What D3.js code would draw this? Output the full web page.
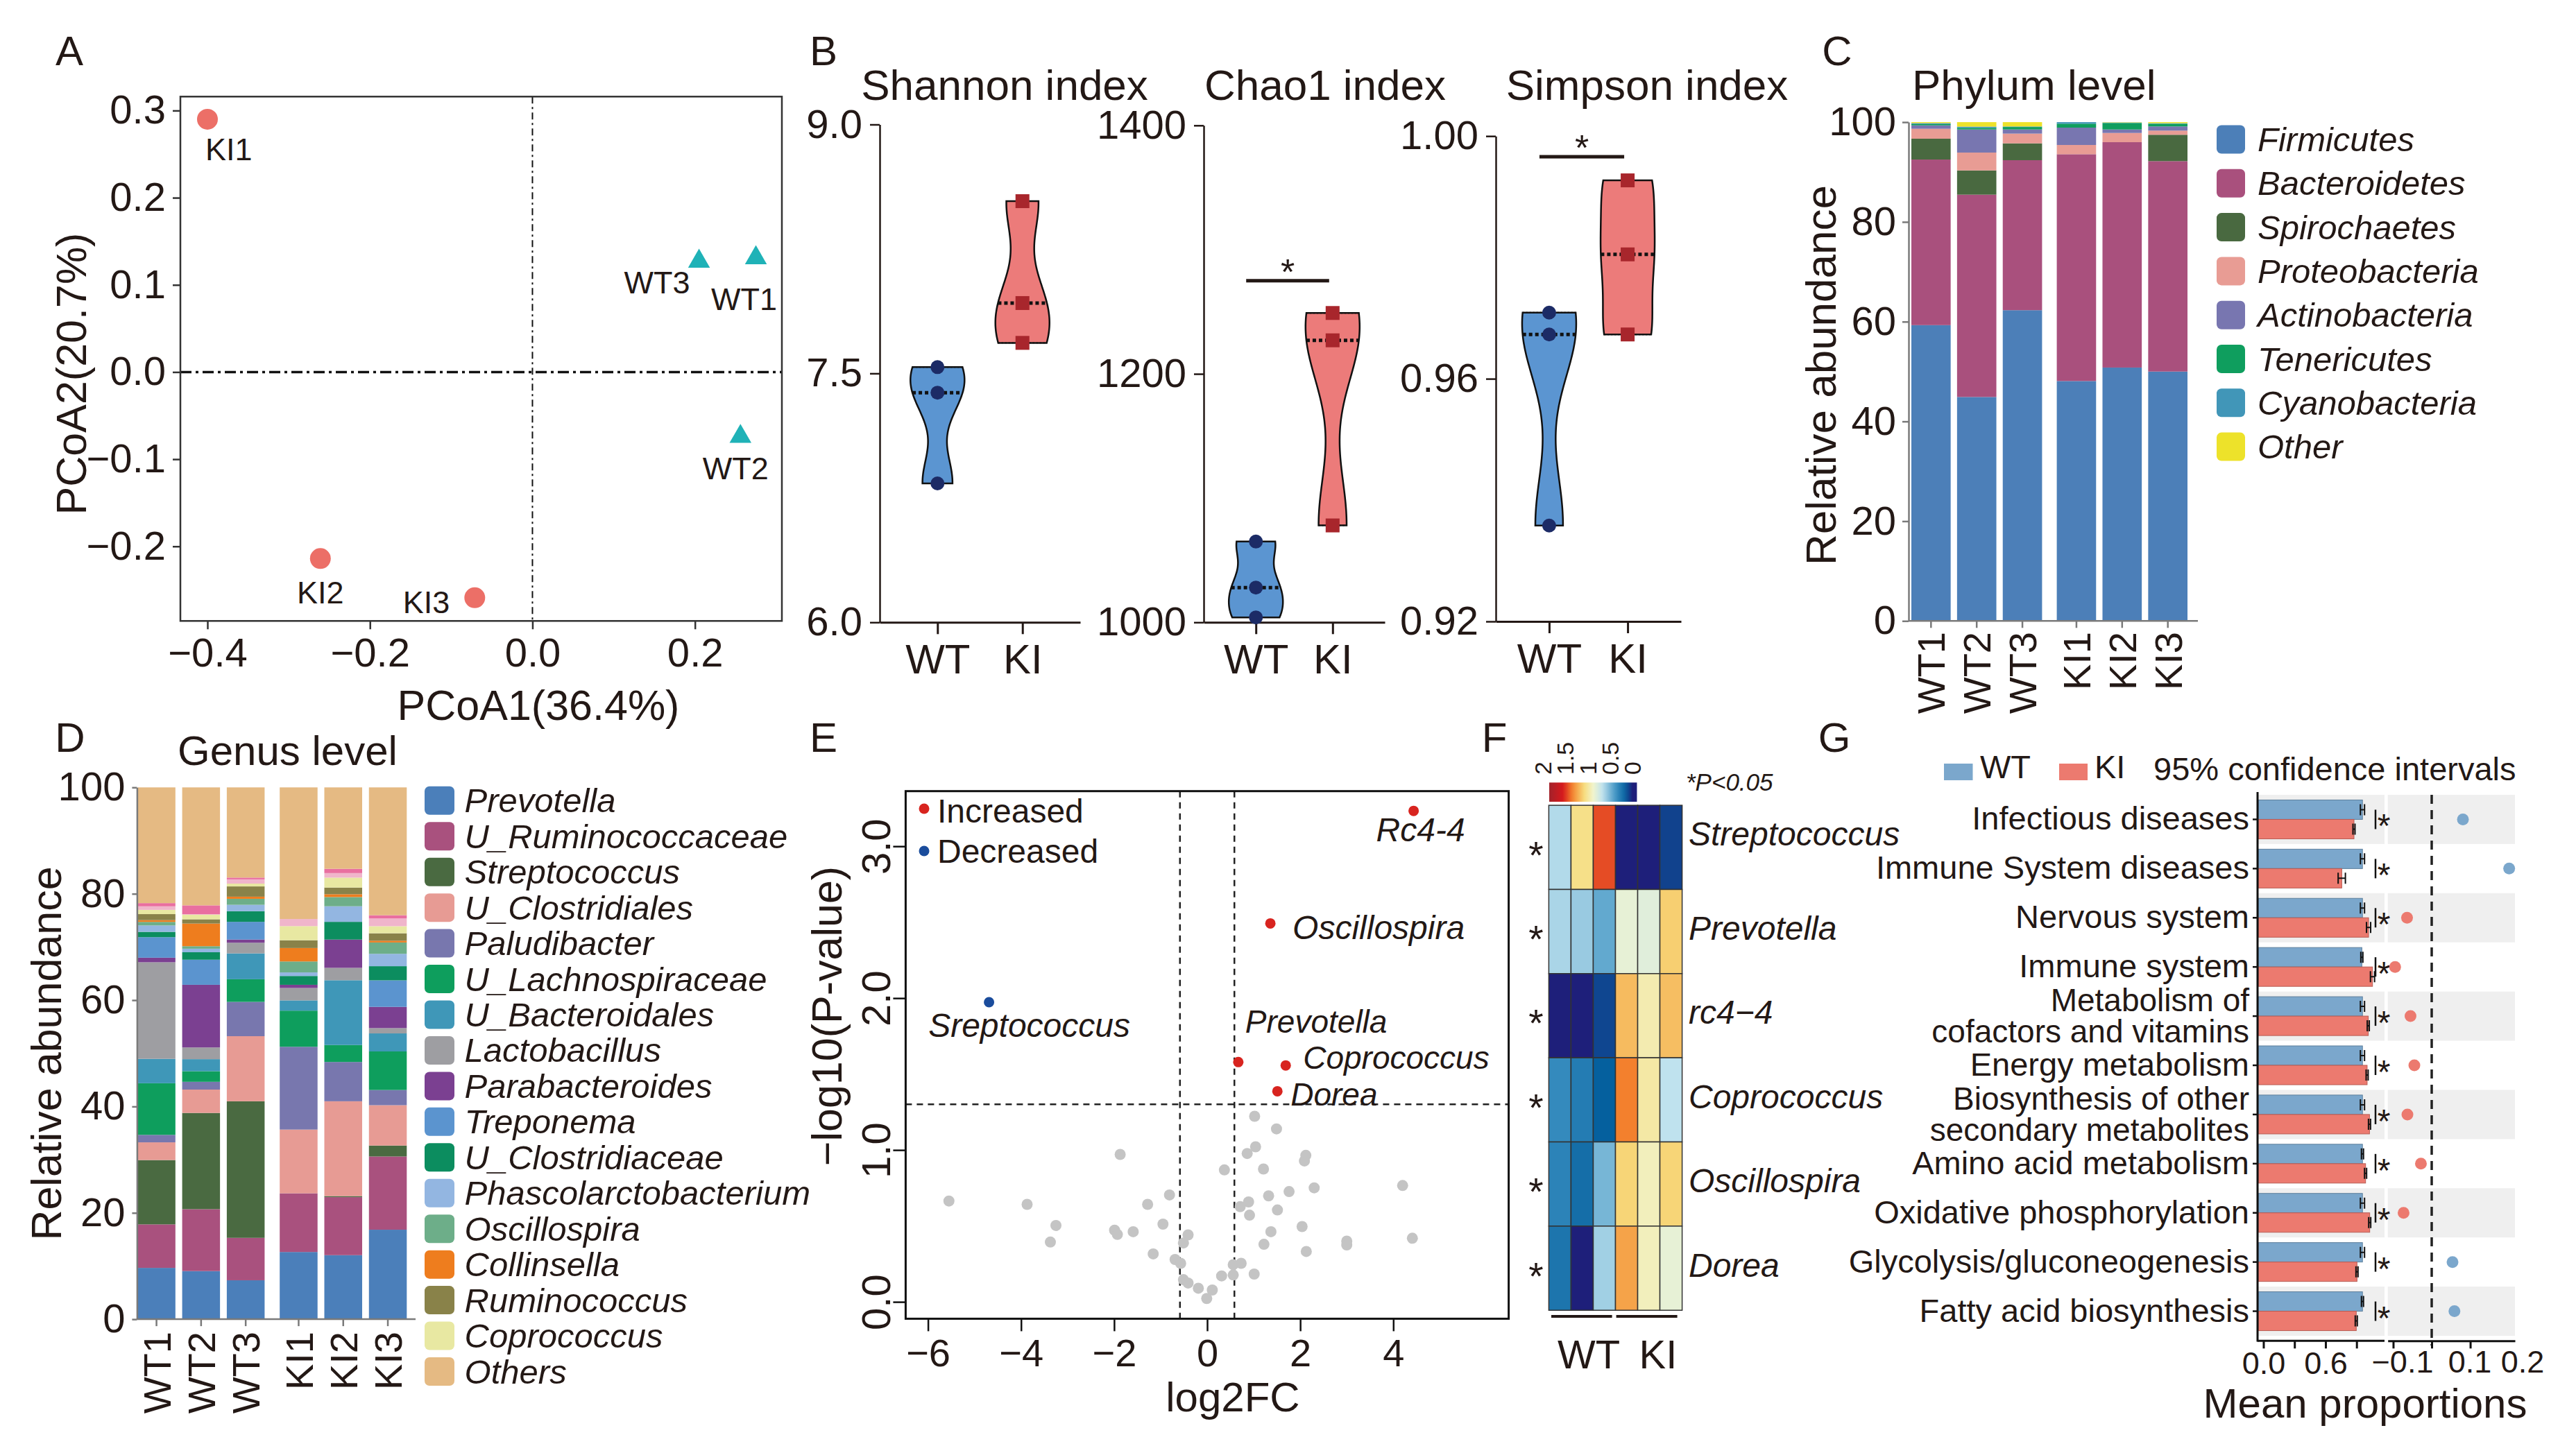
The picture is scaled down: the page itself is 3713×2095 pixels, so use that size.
<!DOCTYPE html>
<html>
<head>
<meta charset="utf-8">
<script src="https://cdn.jsdelivr.net/npm/d3@7/dist/d3.min.js"></script>
<style>
  body { margin: 0; background: #fff; }
  text { font-family: 'Liberation Sans', Arial, Helvetica, sans-serif; fill: #231815; }
</style>
</head>
<body>
<script>
// ---------- A: PCoA ----------
const pcoaSamples = ["KI1", "KI2", "KI3", "WT1", "WT2", "WT3"];
const pcoaGroup = ["KI", "KI", "KI", "WT", "WT", "WT"];
const pcoa1 = [-0.400, -0.261, -0.071, 0.275, 0.256, 0.205];
const pcoa2 = [0.290, -0.214, -0.259, 0.131, -0.074, 0.127];
const pcoaTicksX = [-0.4, -0.2, 0.0, 0.2];
const pcoaTicksY = [-0.2, -0.1, 0.0, 0.1, 0.2, 0.3];

// ---------- B: alpha diversity ----------
const groups = ["WT", "KI"];
const shannonWT = [7.538, 7.384, 6.837];
const shannonKI = [8.538, 7.924, 7.684];
const chao1WT = [1065, 1028, 1004];
const chao1KI = [1249, 1227, 1078];
const simpsonWT = [0.9709, 0.9673, 0.9358];
const simpsonKI = [0.9927, 0.9805, 0.9673];
const shannonTicks = [6.0, 7.5, 9.0];
const chao1Ticks = [1000, 1200, 1400];
const simpsonTicks = [0.92, 0.96, 1.00];
const chao1Sig = 1275;
const simpsonSig = 0.9966;

// ---------- C: phylum ----------
const samples = ["WT1", "WT2", "WT3", "KI1", "KI2", "KI3"];
const phyla = ["Firmicutes", "Bacteroidetes", "Spirochaetes", "Proteobacteria",
  "Actinobacteria", "Tenericutes", "Cyanobacteria", "Other"];
const firmicutes = [59.3, 44.9, 62.3, 48.1, 50.8, 50.0];
const bacteroidetes = [33.2, 40.56, 30.07, 45.47, 45.18, 42.18];
const spirochaetes = [4.18, 4.86, 3.38, 0.0, 0.0, 5.29];
const proteobacteria = [1.99, 3.58, 1.95, 1.85, 1.85, 0.83];
const actinobacteria = [0.69, 4.63, 0.83, 3.48, 0.7, 0.84];
const tenericutes = [0.24, 0.33, 0.5, 0.79, 1.3, 0.55];
const cyanobacteria = [0.2, 0.24, 0.1, 0.31, 0.1, 0.1];
const otherPhyla = [0.2, 0.9, 0.87, 0.0, 0.07, 0.21];
const phylumColors = ["#4c7fb8", "#a9507d", "#496940", "#e89c94", "#7876b0", "#0f9e5e", "#4196b8", "#ede22a"];

// ---------- D: genus ----------
const genera = ["Prevotella", "U_Ruminococcaceae", "Streptococcus", "U_Clostridiales", "Paludibacter",
  "U_Lachnospiraceae", "U_Bacteroidales", "Lactobacillus", "Parabacteroides", "Treponema",
  "U_Clostridiaceae", "Phascolarctobacterium", "Oscillospira", "Collinsella", "Ruminococcus",
  "Coprococcus", "Others"];
const prevotella = [9.65, 9.05, 7.32, 12.64, 12.04, 16.83];
const uRuminococcaceae = [8.18, 11.64, 7.98, 11.04, 10.91, 13.77];
const streptococcus = [12.1, 18.1, 25.68, 0.0, 0.2, 2.06];
const uClostridiales = [3.33, 4.39, 12.24, 11.98, 17.83, 7.58];
const paludibacter = [1.4, 1.46, 6.45, 15.57, 7.39, 2.86];
const uLachnospiraceae = [9.71, 2.0, 4.26, 6.79, 3.19, 7.25];
const uBacteroidales = [4.59, 2.26, 4.86, 1.93, 12.18, 3.39];
const lactobacillus = [18.16, 2.2, 2.0, 2.33, 2.33, 1.0];
const parabacteroides = [0.86, 11.78, 0.6, 0.6, 5.32, 3.99];
const treponema = [3.86, 4.72, 3.33, 0.0, 0.0, 4.99];
const uClostridiaceae = [1.0, 1.4, 2.0, 1.66, 3.33, 2.66];
const phascolarctobacterium = [1.2, 0.67, 1.2, 0.67, 2.93, 2.33];
const oscillospira = [0.67, 0.47, 1.13, 2.06, 1.73, 2.13];
const collinsella = [0.33, 4.26, 0.4, 2.53, 0.53, 0.33];
const ruminococcus = [1.13, 0.8, 1.93, 1.46, 1.26, 1.4];
const coprococcus = [0.8, 0.86, 0.53, 2.66, 1.86, 1.33];
const unlistedA = [0.67, 0.1, 0.8, 1.33, 0.86, 1.46];   // unlabelled pale pink layer
const unlistedB = [0.6, 1.66, 0.33, 0.0, 0.8, 0.6];     // unlabelled pink layer
const othersGenus = [21.76, 22.18, 16.96, 24.75, 15.31, 24.04];
const genusColors = ["#4b7fba", "#a9517e", "#4a6a41", "#e79b94", "#7877ae", "#0e9e5d", "#3f97b8",
  "#9e9ea2", "#7b4091", "#5b94cf", "#0c8d5f", "#93b6e1", "#6dae89", "#ee7d1e", "#898249",
  "#e8e8a2", "#e5ba83"];
const unlistedColors = ["#f0b5cb", "#e96fa0"];

// ---------- E: volcano ----------
const grayFC = [-5.55, -3.87, -3.25, -3.37, -1.87, -1.99, -1.93, -1.59, -1.28, -1.16, -0.95, -0.81,
  -0.69, -0.57, -0.51, -0.41, -0.51, -0.41, -0.19, -0.01, 0.11, 0.31, 0.56, 0.56, 0.73, 1.01, 0.37,
  0.71, 0.89, 0.91, 0.86, 1.04, 1.02, 1.21, 1.32, 1.22, 1.37, 1.49, 1.51, 1.76, 2.04, 2.09, 2.12,
  2.13, 2.30, 3.00, 3.00, 4.20, 4.41];
const grayLogP = [0.664, 0.642, 0.503, 0.394, 0.971, 0.472, 0.444, 0.462, 0.642, 0.316, 0.512, 0.704,
  0.279, 0.254, 0.388, 0.441, 0.146, 0.124, 0.090, 0.022, 0.078, 0.171, 0.177, 0.245, 0.254, 0.183,
  0.869, 0.627, 0.658, 0.571, 0.977, 1.021, 1.222, 0.875, 0.698, 0.379, 0.462, 1.139, 0.605, 0.726,
  0.496, 0.928, 0.965, 0.332, 0.751, 0.400, 0.375, 0.766, 0.419];
const sigNames = ["Rc4-4", "Oscillospira", "Prevotella", "Coprococcus", "Dorea", "Sreptococcus"];
const sigFC = [4.437, 1.358, 0.669, 1.688, 1.509, -4.688];
const sigLogP = [3.233, 2.492, 1.579, 1.557, 1.387, 1.973];
const volcanoTicksX = [-6, -4, -2, 0, 2, 4];
const volcanoTicksY = [0, 1, 2, 3];
const fcCut = 0.585, pCut = 1.301;

// ---------- F: heatmap ----------
const heatRows = ["Streptococcus", "Prevotella", "rc4\u22124", "Coprococcus", "Oscillospira", "Dorea"];
const heatStreptococcus = [0.64, 1.05, 1.45, 0.0, 0.0, 0.08];
const heatPrevotella = [0.62, 0.58, 0.45, 0.83, 0.80, 1.12];
const heatRc44 = [0.0, 0.0, 0.09, 1.18, 0.95, 1.17];
const heatCoprococcus = [0.33, 0.27, 0.15, 1.35, 0.98, 0.67];
const heatOscillospira = [0.30, 0.21, 0.50, 1.10, 0.92, 1.10];
const heatDorea = [0.24, 0.0, 0.60, 1.25, 0.92, 0.83];
const heatLegendTicks = [2, 1.5, 1, 0.5, 0];

// ---------- G: KEGG ----------
const pathways = ["Infectious diseases", "Immune System diseases", "Nervous system", "Immune system",
  "Metabolism of\ncofactors and vitamins", "Energy metabolism", "Biosynthesis of other\nsecondary metabolites",
  "Amino acid metabolism", "Oxidative phosphorylation", "Glycolysis/gluconeogenesis", "Fatty acid biosynthesis"];
const wtMean = [0.957, 0.957, 0.957, 0.951, 0.957, 0.957, 0.957, 0.957, 0.957, 0.957, 0.957];
const kiMean = [0.875, 0.757, 1.016, 1.054, 1.013, 1.002, 1.025, 0.987, 1.027, 0.904, 0.897];
const wtErr = [0.02, 0.02, 0.02, 0.01, 0.02, 0.02, 0.02, 0.01, 0.02, 0.02, 0.01];
const kiErr = [0.01, 0.035, 0.02, 0.02, 0.01, 0.01, 0.01, 0.01, 0.01, 0.01, 0.01];
const diffEst = [0.081, 0.201, -0.064, -0.095, -0.055, -0.045, -0.063, -0.028, -0.073, 0.054, 0.059];
const barTicks = [0, 0.3, 0.6, 0.9];
const ciTicks = [-0.1, 0, 0.1];

// ================= drawing =================
const W = 3713, H = 2095;
const ink = "#231815";
const svg = d3.select("body").append("svg").attr("width", W).attr("height", H);
svg.append("rect").attr("width", W).attr("height", H).attr("fill", "#fff");

function txt(g, x, y, s, size, o = {}) {
  return g.append("text")
    .attr("x", x).attr("y", y).text(s)
    .attr("font-size", size)
    .attr("text-anchor", o.anchor || "start")
    .attr("font-style", o.italic ? "italic" : null)
    .attr("transform", o.rot ? `rotate(${o.rot},${x},${y})` : null);
}

function styleAxis(sel, size, width = 2.5, color = ink) {
  sel.selectAll("text").attr("font-size", size);
  sel.selectAll("line").attr("stroke", color).attr("stroke-width", width);
  sel.select(".domain").attr("stroke", color).attr("stroke-width", width);
}

// panel letters
[["A", 100, 94], ["B", 1187, 94], ["C", 2648, 94], ["D", 101, 1084], ["E", 1187, 1084],
 ["F", 2154, 1084], ["G", 2644, 1084]].forEach(d => txt(svg, d[1], d[2], d[0], 60, {anchor: "middle"}));

// ---------- A ----------
{
  const g = svg.append("g");
  const x = d3.scaleLinear().domain([-0.4333, 0.307]).range([260, 1127]);
  const y = d3.scaleLinear().domain([0.316, -0.2856]).range([139.3, 895.3]);

  g.append("line").attr("x1", 260).attr("x2", 1127).attr("y1", y(0)).attr("y2", y(0))
    .attr("stroke", "#111").attr("stroke-width", 3.5).attr("stroke-dasharray", "16,6,4,6");
  g.append("line").attr("x1", x(0)).attr("x2", x(0)).attr("y1", 139.3).attr("y2", 895.3)
    .attr("stroke", "#111").attr("stroke-width", 2).attr("stroke-dasharray", "10,5,3,5");

  const xa = g.append("g").attr("transform", "translate(0,895.3)")
    .call(d3.axisBottom(x).tickValues(pcoaTicksX).tickFormat(d3.format(".1f")).tickSize(12).tickPadding(13));
  xa.select(".domain").remove();
  styleAxis(xa, 58, 2.5, "#333");
  const ya = g.append("g").attr("transform", "translate(260,0)")
    .call(d3.axisLeft(y).tickValues(pcoaTicksY).tickFormat(d3.format(".1f")).tickSize(11).tickPadding(10));
  ya.select(".domain").remove();
  styleAxis(ya, 58, 2.5, "#333");

  g.append("rect").attr("x", 260).attr("y", 139.3).attr("width", 867).attr("height", 756)
    .attr("fill", "none").attr("stroke", "#333").attr("stroke-width", 2.5);

  const labelPos = {KI1: [-3, 59, "start"], KI2: [0, 65, "middle"], KI3: [-36, 22, "end"],
    WT3: [-13, 46, "end"], WT1: [-17, 75, "middle"], WT2: [-7, 62, "middle"]};
  pcoaSamples.forEach((s, i) => {
    const px = x(pcoa1[i]), py = y(pcoa2[i]);
    if (pcoaGroup[i] === "KI") {
      g.append("circle").attr("cx", px).attr("cy", py).attr("r", 15).attr("fill", "#ec6f67");
    } else {
      g.append("path").attr("d", d3.symbol().type(d3.symbolTriangle).size(430)())
        .attr("transform", `translate(${px},${py})`).attr("fill", "#1fb2b7");
    }
    const lp = labelPos[s];
    txt(g, px + lp[0], py + lp[1], s, 45, {anchor: lp[2]});
  });

  txt(g, 776, 1038, "PCoA1(36.4%)", 61, {anchor: "middle"});
  txt(g, 124, 539, "PCoA2(20.7%)", 61, {anchor: "middle", rot: -90});
}

// ---------- B ----------
{
  const g = svg.append("g");
  const panels = [
    {title: "Shannon index", wt: shannonWT, ki: shannonKI, ticks: shannonTicks, fmt: d3.format(".1f"),
      x0: 1268, x1: 1557, yTop: 179.5, yBot: 897.3, titleX: 1448, sig: null},
    {title: "Chao1 index", wt: chao1WT, ki: chao1KI, ticks: chao1Ticks, fmt: d3.format("d"),
      x0: 1735, x1: 1996, yTop: 180.8, yBot: 897.3, titleX: 1910, sig: chao1Sig},
    {title: "Simpson index", wt: simpsonWT, ki: simpsonKI, ticks: simpsonTicks, fmt: d3.format(".2f"),
      x0: 2156, x1: 2423, yTop: 196.2, yBot: 896, titleX: 2374, sig: simpsonSig}
  ];
  const fills = {WT: "#5b95d1", KI: "#ec7b7a"};

  panels.forEach(p => {
    const y = d3.scaleLinear().domain([p.ticks[0], p.ticks[p.ticks.length - 1]]).range([p.yBot, p.yTop]);
    const x = d3.scalePoint().domain(groups).range([p.x0, p.x1]).padding(0.68);

    const ya = g.append("g").attr("transform", `translate(${p.x0},0)`)
      .call(d3.axisLeft(y).tickValues(p.ticks).tickFormat(p.fmt).tickSize(14).tickSizeOuter(0).tickPadding(11));
    styleAxis(ya, 58);
    const xa = g.append("g").attr("transform", `translate(0,${p.yBot})`)
      .call(d3.axisBottom(x).tickSize(17).tickSizeOuter(0).tickPadding(14));
    styleAxis(xa, 60, 3);

    txt(g, p.titleX, 144, p.title, 62, {anchor: "middle"});

    groups.forEach(gr => {
      const vals = gr === "WT" ? p.wt : p.ki;
      const cx = x(gr);
      const lo = d3.min(vals), hi = d3.max(vals), bw = (hi - lo) * 0.25;
      const dens = v => d3.sum(vals, u => Math.exp(-0.5 * ((v - u) / bw) ** 2));
      const pts = d3.range(0, 61).map(i => { const v = lo + (hi - lo) * i / 60; return [v, dens(v)]; });
      const mx = d3.max(pts, d => d[1]);
      const hw = d => 39 * d / mx;
      const area = d3.area().curve(d3.curveCatmullRom)
        .y(d => y(d[0])).x0(d => cx - hw(d[1])).x1(d => cx + hw(d[1]));
      g.append("path").attr("d", area(pts) + "Z").attr("fill", fills[gr])
        .attr("stroke", "#111").attr("stroke-width", 2.5);

      const med = d3.median(vals);
      g.append("line").attr("x1", cx - hw(dens(med))).attr("x2", cx + hw(dens(med)))
        .attr("y1", y(med)).attr("y2", y(med))
        .attr("stroke", "#111").attr("stroke-width", 5).attr("stroke-dasharray", "5,4");
      [lo, hi].forEach(q => g.append("line").attr("x1", cx - hw(dens(q))).attr("x2", cx + hw(dens(q)))
        .attr("y1", y(q)).attr("y2", y(q)).attr("stroke", "#111").attr("stroke-width", 1.8)
        .attr("stroke-dasharray", "2,3"));

      vals.forEach(v => {
        if (gr === "WT") g.append("circle").attr("cx", cx).attr("cy", y(v)).attr("r", 10).attr("fill", "#1c2b66");
        else g.append("rect").attr("x", cx - 10).attr("y", y(v) - 10).attr("width", 20).attr("height", 20).attr("fill", "#a8262c");
      });
    });

    if (p.sig !== null) {
      const x1 = x("WT") - 14, x2 = x("KI") - 5;
      g.append("line").attr("x1", x1).attr("x2", x2).attr("y1", y(p.sig)).attr("y2", y(p.sig))
        .attr("stroke", ink).attr("stroke-width", 5);
      txt(g, (x1 + x2) / 2, y(p.sig) + 5, "*", 52, {anchor: "middle"});
    }
  });
}

// ---------- stacked bar helper ----------
function stackPanel(g, keys, valueArrays, colors, opt) {
  const table = samples.map((s, i) => {
    const o = {sample: s};
    keys.forEach((k, j) => o[k] = valueArrays[j][i]);
    return o;
  });
  const y = d3.scaleLinear().domain([0, 100]).range([opt.yBot, opt.yTop]);
  const x = d3.scaleBand().domain(samples).range([opt.x0, opt.x1 - opt.gap]).paddingInner(opt.pad);
  const bx = s => x(s) + (s.startsWith("KI") ? opt.gap : 0);
  const series = d3.stack().keys(keys)(table);
  series.forEach((layer, li) => {
    g.append("g").attr("fill", colors[li]).selectAll("rect").data(layer).join("rect")
      .attr("x", d => bx(d.data.sample)).attr("width", x.bandwidth())
      .attr("y", d => y(d[1])).attr("height", d => Math.max(0, y(d[0]) - y(d[1])));
  });
  const ya = g.append("g").attr("transform", `translate(${opt.axisX},0)`)
    .call(d3.axisLeft(y).tickValues([0, 20, 40, 60, 80, 100]).tickSize(opt.tick).tickSizeOuter(0).tickPadding(opt.tickPad));
  styleAxis(ya, 58, 2.5, "#7a7a7a");
  g.append("line").attr("x1", opt.axisX).attr("x2", opt.axisEnd).attr("y1", opt.yBot).attr("y2", opt.yBot)
    .attr("stroke", "#7a7a7a").attr("stroke-width", 2.5);
  samples.forEach(s => {
    const cx = bx(s) + x.bandwidth() / 2;
    g.append("line").attr("x1", cx).attr("x2", cx).attr("y1", opt.yBot).attr("y2", opt.yBot + 10)
      .attr("stroke", "#7a7a7a").attr("stroke-width", 2.5);
    txt(g, cx, opt.labelTop, s, 56, {anchor: "end", rot: -90}).attr("dy", "0.36em");
  });
}

// ---------- C ----------
{
  const g = svg.append("g");
  stackPanel(g, phyla, [firmicutes, bacteroidetes, spirochaetes, proteobacteria, actinobacteria,
    tenericutes, cyanobacteria, otherPhyla], phylumColors,
    {x0: 2755, x1: 3153, gap: 12, pad: 0.14, yTop: 176.1, yBot: 895.3, axisX: 2751, axisEnd: 3168,
      tick: 9, tickPad: 9, labelTop: 911});
  txt(g, 2756, 144, "Phylum level", 62);
  txt(g, 2646, 541, "Relative abundance", 62, {anchor: "middle", rot: -90});
  phyla.forEach((p, i) => {
    const cy = 201 + i * 63.3;
    g.append("rect").attr("x", 3195).attr("y", cy - 20.5).attr("width", 41).attr("height", 41)
      .attr("rx", 7).attr("fill", phylumColors[i]);
    txt(g, 3254, cy + 17, p, 49, {italic: true});
  });
}

// ---------- D ----------
{
  const g = svg.append("g");
  const keys = genera.slice(0, 16).concat(["unlistedA", "unlistedB", "Others"]);
  const arrays = [prevotella, uRuminococcaceae, streptococcus, uClostridiales, paludibacter,
    uLachnospiraceae, uBacteroidales, lactobacillus, parabacteroides, treponema, uClostridiaceae,
    phascolarctobacterium, oscillospira, collinsella, ruminococcus, coprococcus, unlistedA, unlistedB, othersGenus];
  const colors = genusColors.slice(0, 16).concat(unlistedColors, [genusColors[16]]);
  stackPanel(g, keys, arrays, colors,
    {x0: 198.3, x1: 586.3, gap: 12, pad: 0.152, yTop: 1135.3, yBot: 1902.1, axisX: 197.4, axisEnd: 599,
      tick: 7, tickPad: 10, labelTop: 1920});
  txt(g, 256, 1103, "Genus level", 60);
  txt(g, 88, 1519, "Relative abundance", 61, {anchor: "middle", rot: -90});
  genera.forEach((p, i) => {
    const cy = 1154.3 + i * 51.45;
    g.append("rect").attr("x", 612).attr("y", cy - 20.5).attr("width", 43).attr("height", 41)
      .attr("rx", 7).attr("fill", genusColors[i]);
    txt(g, 669.6, cy + 17, p, 49, {italic: true});
  });
}

// ---------- E ----------
{
  const g = svg.append("g");
  const x = d3.scaleLinear().domain([-6.48, 6.48]).range([1305.4, 2174.6]);
  const y = d3.scaleLinear().domain([-0.111, 3.363]).range([1901.4, 1140.7]);

  const dash = {stroke: "#222", w: 2.5, d: "9,7"};
  [-fcCut, fcCut].forEach(v => g.append("line").attr("x1", x(v)).attr("x2", x(v)).attr("y1", 1140.7).attr("y2", 1901.4)
    .attr("stroke", dash.stroke).attr("stroke-width", dash.w).attr("stroke-dasharray", dash.d));
  g.append("line").attr("x1", 1305.4).attr("x2", 2174.6).attr("y1", y(pCut)).attr("y2", y(pCut))
    .attr("stroke", dash.stroke).attr("stroke-width", dash.w).attr("stroke-dasharray", dash.d);

  grayFC.forEach((v, i) => g.append("circle").attr("cx", x(v)).attr("cy", y(grayLogP[i])).attr("r", 8).attr("fill", "#c4c4c4"));

  const lab = {"Rc4-4": [10, 44, "middle", 48], Oscillospira: [32, 23, "start", 48], Prevotella: [10, -42, "start", 46],
    Coprococcus: [25, 5, "start", 46], Dorea: [19, 21, "start", 46], Sreptococcus: [58, 50, "middle", 48]};
  sigNames.forEach((n, i) => {
    const px = x(sigFC[i]), py = y(sigLogP[i]);
    g.append("circle").attr("cx", px).attr("cy", py).attr("r", 7.5).attr("fill", sigFC[i] > 0 ? "#d8241f" : "#1a4c9c");
    txt(g, px + lab[n][0], py + lab[n][1], n, lab[n][3], {italic: true, anchor: lab[n][2]});
  });

  g.append("rect").attr("x", 1305.4).attr("y", 1140.7).attr("width", 869.2).attr("height", 760.7)
    .attr("fill", "none").attr("stroke", "#111").attr("stroke-width", 3);

  const xa = g.append("g").attr("transform", "translate(0,1901.4)")
    .call(d3.axisBottom(x).tickValues(volcanoTicksX).tickFormat(d3.format("d")).tickSize(18).tickPadding(11));
  xa.select(".domain").remove();
  styleAxis(xa, 56, 2.5, "#111");
  const ya = g.append("g").attr("transform", "translate(1305.4,0)")
    .call(d3.axisLeft(y).tickValues(volcanoTicksY).tickFormat(d3.format(".1f")).tickSize(18));
  ya.select(".domain").remove();
  styleAxis(ya, 58, 2.5, "#111");
  ya.selectAll("text").attr("x", null).attr("dy", null).attr("text-anchor", "middle")
    .attr("transform", "translate(-22,0) rotate(-90)");

  txt(g, 1777, 2035, "log2FC", 60, {anchor: "middle"});
  txt(g, 1213, 1465, "\u2212log10(P-value)", 61, {anchor: "middle", rot: -90});

  g.append("circle").attr("cx", 1332).attr("cy", 1166).attr("r", 7.5).attr("fill", "#d8241f");
  txt(g, 1351, 1186, "Increased", 48);
  g.append("circle").attr("cx", 1332).attr("cy", 1227).attr("r", 7.5).attr("fill", "#1a4c9c");
  txt(g, 1351, 1244, "Decreased", 48);
}

// ---------- F ----------
{
  const g = svg.append("g");
  const heatVals = [heatStreptococcus, heatPrevotella, heatRc44, heatCoprococcus, heatOscillospira, heatDorea];
  const color = d3.scaleLinear()
    .domain([0, 0.15, 0.36, 0.67, 0.87, 1.08, 1.34, 1.55, 1.86])
    .range(["#1e1f7a", "#05609e", "#3c91c2", "#bfe2ee", "#f1f5d0", "#f7dc7d", "#f4852e", "#d7191c", "#a2222a"])
    .clamp(true);
  const x = d3.scaleBand().domain(samples).range([2232.4, 2424.6]);
  const y = d3.scaleBand().domain(heatRows).range([1161.1, 1889.2]);
  const rowLabelShift = {Streptococcus: -3};

  heatRows.forEach((r, ri) => {
    samples.forEach((s, ci) => {
      g.append("rect").attr("x", x(s)).attr("y", y(r)).attr("width", x.bandwidth()).attr("height", y.bandwidth())
        .attr("fill", color(heatVals[ri][ci])).attr("stroke", "#333").attr("stroke-width", 1.5);
    });
    const cy = y(r) + y.bandwidth() / 2;
    txt(g, 2214, cy + 30, "*", 55, {anchor: "middle"});
    txt(g, 2434, cy + (rowLabelShift[r] !== undefined ? rowLabelShift[r] : 12), r, 48, {italic: true});
  });

  // colour key
  const cb = d3.scaleLinear().domain([2, 0]).range([2224, 2353]);
  const grad = svg.append("defs").append("linearGradient").attr("id", "heatGrad");
  d3.range(0, 21).forEach(i => {
    const v = 1.86 - (1.96 * i / 20);
    grad.append("stop").attr("offset", `${i * 5}%`).attr("stop-color", color(v));
  });
  g.append("rect").attr("x", cb(1.86)).attr("y", 1128.3).attr("width", cb(-0.1) - cb(1.86)).attr("height", 27.7)
    .attr("fill", "url(#heatGrad)");
  heatLegendTicks.forEach(v => txt(g, cb(v) + 12, 1117, String(v), 34, {rot: -90}));
  txt(g, 2430, 1140, "*P<0.05", 35, {italic: true});

  g.append("line").attr("x1", 2236).attr("x2", 2323.6).attr("y1", 1898).attr("y2", 1898).attr("stroke", ink).attr("stroke-width", 4);
  g.append("line").attr("x1", 2329.6).attr("x2", 2417.6).attr("y1", 1898).attr("y2", 1898).attr("stroke", ink).attr("stroke-width", 4);
  txt(g, 2290, 1973, "WT", 58, {anchor: "middle"});
  txt(g, 2390, 1973, "KI", 58, {anchor: "middle"});
}

// ---------- G ----------
{
  const g = svg.append("g");
  const y = d3.scaleBand().domain(pathways).range([1146, 1926]);
  const xb = d3.scaleLinear().domain([-0.05, 1.17]).range([3255, 3437]);
  const xc = d3.scaleLinear().domain([-0.114, 0.216]).range([3441.7, 3625]);
  const wtCol = "#7ba7cc", kiCol = "#ec7a6f";

  pathways.forEach((p, i) => {
    if (i % 2 === 0) {
      g.append("rect").attr("x", 3255).attr("y", y(p)).attr("width", 3437 - 3255).attr("height", y.bandwidth()).attr("fill", "#efefef");
      g.append("rect").attr("x", 3441.7).attr("y", y(p)).attr("width", 3625 - 3441.7).attr("height", y.bandwidth()).attr("fill", "#efefef");
    }
  });
  g.append("line").attr("x1", xc(0)).attr("x2", xc(0)).attr("y1", 1146).attr("y2", 1940)
    .attr("stroke", "#222").attr("stroke-width", 3.5).attr("stroke-dasharray", "13,9");

  const bh = 28;
  pathways.forEach((p, i) => {
    const yc = y(p) + y.bandwidth() / 2;
    g.append("rect").attr("x", xb(-0.05)).attr("y", yc - bh).attr("width", xb(wtMean[i]) - xb(-0.05)).attr("height", bh)
      .attr("fill", wtCol).attr("stroke", "#5d7f9c").attr("stroke-width", 1);
    g.append("rect").attr("x", xb(-0.05)).attr("y", yc).attr("width", xb(kiMean[i]) - xb(-0.05)).attr("height", bh)
      .attr("fill", kiCol).attr("stroke", "#b85b53").attr("stroke-width", 1);
    [[wtMean[i], wtErr[i], yc - bh / 2], [kiMean[i], kiErr[i], yc + bh / 2]].forEach(([m, e, cy]) => {
      const e1 = xb(m - e), e2 = xb(m + e);
      g.append("path").attr("d", `M${e1},${cy - 8}V${cy + 8}M${e1},${cy}H${e2}M${e2},${cy - 8}V${cy + 8}`)
        .attr("stroke", "#111").attr("stroke-width", 2).attr("fill", "none");
    });
    g.append("line").attr("x1", 3424).attr("x2", 3424).attr("y1", yc - 14).attr("y2", yc + 14)
      .attr("stroke", "#111").attr("stroke-width", 2.5);
    txt(g, 3436, yc + 26, "*", 48, {anchor: "middle"});
    g.append("circle").attr("cx", xc(diffEst[i])).attr("cy", yc).attr("r", 8.5)
      .attr("fill", diffEst[i] > 0 ? wtCol : kiCol);

    const lines = p.split("\n");
    if (lines.length === 1) txt(g, 3242, yc + 15, p, 47, {anchor: "end"});
    else { txt(g, 3242, yc - 7, lines[0], 46, {anchor: "end"}); txt(g, 3242, yc + 38, lines[1], 46, {anchor: "end"}); }
    g.append("line").attr("x1", 3247).attr("x2", 3254).attr("y1", yc).attr("y2", yc).attr("stroke", "#111").attr("stroke-width", 2.5);
  });

  g.append("line").attr("x1", 3254).attr("x2", 3254).attr("y1", 1142).attr("y2", 1934.5).attr("stroke", "#111").attr("stroke-width", 3);
  const xa = g.append("g").attr("transform", "translate(0,1933.3)")
    .call(d3.axisBottom(xb).tickValues(barTicks).tickFormat(d => (d === 0 || d === 0.6) ? d3.format(".1f")(d) : "")
      .tickSize(11).tickSizeOuter(0).tickPadding(5));
  styleAxis(xa, 45, 3, "#111");
  xa.select(".domain").attr("d", "M3254,0H3437");
  const xa2 = g.append("g").attr("transform", "translate(0,1933.3)")
    .call(d3.axisBottom(xc).tickValues(ciTicks).tickFormat("").tickSize(11).tickSizeOuter(0));
  styleAxis(xa2, 45, 3, "#111");
  [["\u22120.1", 3463], ["0.1", 3560], ["0.2", 3636]].forEach(d => txt(g, d[1], 1979, d[0], 45, {anchor: "middle"}));

  txt(g, 3409, 2044, "Mean proportions", 60, {anchor: "middle"});

  g.append("rect").attr("x", 2802).attr("y", 1101).attr("width", 41.5).attr("height", 24).attr("fill", wtCol);
  txt(g, 2854, 1122, "WT", 47);
  g.append("rect").attr("x", 2968).attr("y", 1101).attr("width", 41).attr("height", 24).attr("fill", kiCol);
  txt(g, 3019, 1122, "KI", 47);
  txt(g, 3104, 1125, "95% confidence intervals", 47);
}
</script>
</body>
</html>
